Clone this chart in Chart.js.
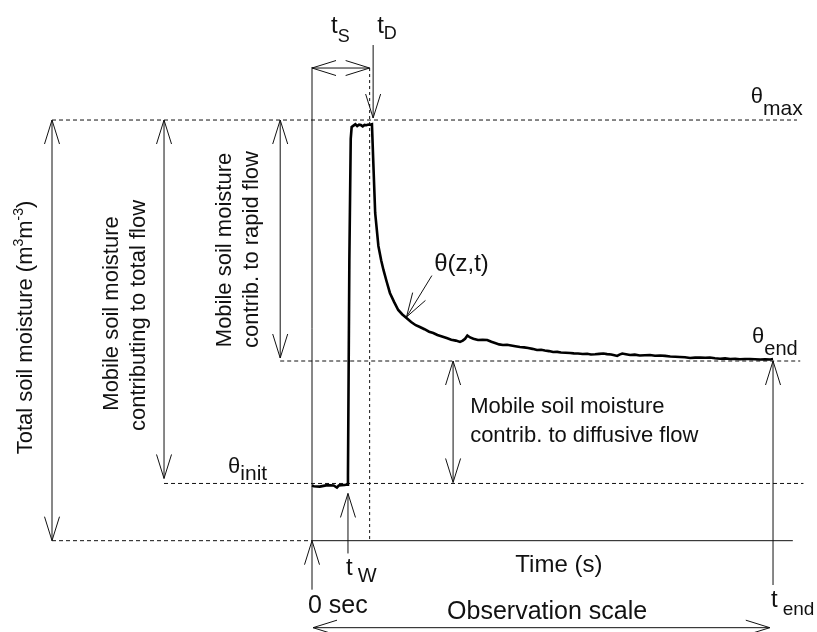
<!DOCTYPE html>
<html><head><meta charset="utf-8">
<script src="https://cdn.jsdelivr.net/npm/chart.js@4.4.1/dist/chart.umd.min.js"></script>
<style>html,body{margin:0;padding:0;background:#fff;}canvas{display:block;}</style>
</head><body>
<canvas id="c" width="817" height="632"></canvas>
<script>
// Time (s) of the measured soil-moisture trace
const timeS = [
  0,4,10,17,25,33,40,47,54,58,64,71,76,
  78,81,84,86,
  90,94,98,102,106,110,114,118,122,126,130,
  133,137,144,150,155,162,169,178,187,196,205,215,225,234,244,254,263,272,282,292,302,312,321,
  327,332,337,343,350,360,370,380,389,397,406,414,423,432,441,451,460,469,478,488,497,505,514,523,532,540,550,560,568,577,587,597,605,614,623,632,640,649,656,662,667,673,681,690,700,
  711,722,733,744,755,766,777,788,798,809,820,831,842,853,863,874,885,896,907,918,928,939,950,961,972,983,994,1000
];
// Soil moisture theta(z,t) (m3 m-3)
const thetaS = [
  0.0590,0.0583,0.0580,0.0578,0.0586,0.0594,0.0592,0.0590,0.0568,0.0590,0.0594,0.0596,0.0600,
  0.070,0.300,0.430,0.4425,
  0.4440,0.4455,0.4436,0.4450,0.4446,0.4432,0.4448,0.4445,0.4452,0.4450,0.4455,
  0.4041,0.3506,0.3153,0.3000,0.2896,0.2770,0.2650,0.2555,0.2468,0.2420,0.2382,0.2340,0.2305,0.2286,0.2262,0.2235,0.2222,0.2200,0.2185,0.2168,0.2150,0.2140,0.2126,
  0.2140,0.2160,0.2195,0.2174,0.2160,0.2147,0.2150,0.2147,0.2128,0.2115,0.2100,0.2093,0.2095,0.2088,0.2080,0.2072,0.2068,0.2061,0.2052,0.2040,0.2042,0.2034,0.2028,0.2018,0.2020,0.2013,0.2010,0.2008,0.2004,0.2002,0.1997,0.1999,0.1992,0.1994,0.1998,0.2002,0.1996,0.1992,0.1984,0.1976,0.1990,0.2002,0.1994,0.1986,0.1990,
  0.1981,0.1984,0.1986,0.1978,0.1981,0.1977,0.1970,0.1968,0.1965,0.1962,0.1954,0.1958,0.1960,0.1957,0.1960,0.1952,0.1946,0.1950,0.1943,0.1946,0.1941,0.1944,0.1943,0.1940,0.1938,0.1941,0.1938,0.1943
];
// Key times and moisture levels
const T_W = 78, T_D = 125, T_END = 1000, T_AXIS_END = 1043;
const TH_INIT = 0.0612, TH_END = 0.1922, TH_MAX = 0.45;
const LEFT_TOTAL = -564, LEFT_FLOW = -321, LEFT_RAPID = -69, DIFF_T = 306;
const X_MIN = -676.8, X_MAX = 1095.4, Y_MIN = -0.0977, Y_MAX = 0.5784;

const FONT = '"Liberation Sans", Arial, Helvetica, sans-serif';
const INK = '#111';

function rich(ctx, x, y, segs, align) {
  let w = 0;
  segs.forEach(s => { ctx.font = s.s + 'px ' + FONT; s.w = ctx.measureText(s.t).width + (s.dx || 0); w += s.w; });
  let cx = align === 'center' ? x - w / 2 : x;
  ctx.textAlign = 'left';
  segs.forEach(s => { ctx.font = s.s + 'px ' + FONT; ctx.fillText(s.t, cx + (s.dx || 0), y + (s.dy || 0)); cx += s.w; });
}

const annot = {
  id: 'annot',
  beforeDatasetsDraw(chart) {
    const ctx = chart.ctx, xs = chart.scales.x, ys = chart.scales.y;
    const X = v => xs.getPixelForValue(v), Y = v => ys.getPixelForValue(v);
    const x0 = X(0), xW = X(T_W), xD = X(T_D), xE = X(T_END), xA = X(T_AXIS_END);
    const y0 = Y(0), yI = Y(TH_INIT), yE = Y(TH_END), yM = Y(TH_MAX);
    const xTot = X(LEFT_TOTAL), xFlow = X(LEFT_FLOW), xRap = X(LEFT_RAPID), xDif = X(DIFF_T);
    ctx.save();
    ctx.strokeStyle = INK; ctx.lineWidth = 1;
    const line = (x1, y1, x2, y2, dash) => { ctx.setLineDash(dash || []); ctx.beginPath(); ctx.moveTo(x1, y1); ctx.lineTo(x2, y2); ctx.stroke(); };
    const head = (tx, ty, fx, fy) => {
      const a = Math.atan2(ty - fy, tx - fx), L = 24, H = 7.5;
      const bx = tx - L * Math.cos(a), by = ty - L * Math.sin(a);
      const nx = -Math.sin(a), ny = Math.cos(a);
      ctx.setLineDash([]);
      ctx.beginPath();
      ctx.moveTo(bx + H * nx, by + H * ny); ctx.lineTo(tx, ty); ctx.lineTo(bx - H * nx, by - H * ny);
      ctx.stroke();
    };
    const arrow2 = (x1, y1, x2, y2) => { line(x1, y1, x2, y2); head(x1, y1, x2, y2); head(x2, y2, x1, y1); };
    const D = [4, 3];
    // dashed reference levels
    line(xTot, yM, X(1052), yM, D);
    line(xTot, y0, x0, y0, D);
    line(xFlow, yI, X(1066), yI, D);
    line(xRap, yE, X(1059), yE, D);
    // time axis
    line(x0, y0, xA, y0);
    // 0 sec vertical line
    line(x0, yM - 53, x0, y0 + 49);
    head(x0, y0, x0, y0 + 49);
    // tS span
    arrow2(x0, yM - 52, xD, yM - 52);
    line(xD, yM - 52, xD, y0, [3, 3]);
    // tD arrow
    line(xD + 3.5, yM - 75, xD + 3.5, yM - 2);
    head(xD + 3.5, yM - 2, xD + 3.5, yM - 75);
    // vertical range arrows
    arrow2(xTot, yM, xTot, y0);
    arrow2(xFlow, yM, xFlow, yI - 5);
    arrow2(xRap, yM, xRap, yE - 3);
    arrow2(xDif, yE, xDif, yI - 1);
    // tW arrow
    line(xW, yI + 10, xW, yI + 70);
    head(xW, yI + 10, xW, yI + 70);
    // t_end arrow
    line(xE, yE, xE, yE + 224);
    head(xE, yE, xE, yE + 224);
    // observation scale
    arrow2(x0 + 1, y0 + 87, X(993), y0 + 87);
    // theta(z,t) pointer
    const tx = X(205), ty = Y(0.2393), fx = X(260), fy = Y(0.2836);
    line(fx, fy, tx, ty); head(tx, ty, fx, fy);
    ctx.restore();
  },
  afterDatasetsDraw(chart) {
    const ctx = chart.ctx, xs = chart.scales.x, ys = chart.scales.y;
    const X = v => xs.getPixelForValue(v), Y = v => ys.getPixelForValue(v);
    const x0 = X(0), xW = X(T_W), xD = X(T_D), xE = X(T_END), xA = X(T_AXIS_END);
    const y0 = Y(0), yI = Y(TH_INIT), yE = Y(TH_END), yM = Y(TH_MAX);
    ctx.save();
    ctx.fillStyle = INK; ctx.textBaseline = 'alphabetic';
    rich(ctx, x0 + 19, yM - 87, [{t: 't', s: 24}, {t: 'S', s: 18, dy: 9}], 'left');
    rich(ctx, xD + 7.5, yM - 87, [{t: 't', s: 24}, {t: 'D', s: 18, dy: 5.5}], 'left');
    rich(ctx, xA - 42, yM - 17, [{t: 'θ', s: 22}, {t: 'max', s: 21, dy: 12}], 'left');
    rich(ctx, xE - 21, yE - 18, [{t: 'θ', s: 22}, {t: 'end', s: 20, dy: 12}], 'left');
    rich(ctx, X(-182), yI - 10.5, [{t: 'θ', s: 22}, {t: 'init', s: 21, dy: 7}], 'left');
    rich(ctx, X(265), Y(0.2883), [{t: 'θ(z,t)', s: 24}], 'left');
    rich(ctx, x0 - 4, y0 + 72, [{t: '0 sec', s: 25}], 'left');
    rich(ctx, X(441), y0 + 31, [{t: 'Time (s)', s: 24}], 'left');
    rich(ctx, X(293), y0 + 78, [{t: 'Observation scale', s: 25}], 'left');
    rich(ctx, xE - 2, y0 + 66, [{t: 't', s: 24}, {t: 'end', s: 19, dy: 8, dx: 5}], 'left');
    rich(ctx, xW - 2, y0 + 34, [{t: 't', s: 24}, {t: 'W', s: 20, dy: 7, dx: 5}], 'left');
    rich(ctx, X(343), yE + 52, [{t: 'Mobile soil moisture', s: 22}], 'left');
    rich(ctx, X(343), yE + 80.5, [{t: 'contrib. to diffusive flow', s: 22}], 'left');
    const vert = (bx, cy, segs) => { ctx.save(); ctx.translate(bx, cy); ctx.rotate(-Math.PI / 2); rich(ctx, 0, 0, segs, 'center'); ctx.restore(); };
    vert(32, 327.5, [{t: 'Total soil moisture (m', s: 22}, {t: '3', s: 14, dy: -9}, {t: 'm', s: 22}, {t: '-3', s: 14, dy: -9}, {t: ')', s: 22}]);
    vert(118, 313.5, [{t: 'Mobile soil moisture', s: 22}]);
    vert(144.5, 315.5, [{t: 'contributing to total flow', s: 22}]);
    vert(231, 250, [{t: 'Mobile soil moisture', s: 22}]);
    vert(258, 249.5, [{t: 'contrib. to rapid flow', s: 22}]);
    ctx.restore();
  }
};

const n = Math.min(timeS.length, thetaS.length);
const pts = [];
for (let i = 0; i < n; i++) pts.push({x: timeS[i], y: thetaS[i]});

new Chart(document.getElementById('c'), {
  type: 'line',
  data: { datasets: [{ data: pts, borderColor: '#000', borderWidth: 2.6, pointRadius: 0, tension: 0, fill: false, clip: false }] },
  options: {
    responsive: false, animation: false,
    layout: { padding: 0 },
    plugins: { legend: { display: false }, tooltip: { enabled: false } },
    scales: {
      x: { type: 'linear', min: X_MIN, max: X_MAX, display: false },
      y: { type: 'linear', min: Y_MIN, max: Y_MAX, display: false }
    }
  },
  plugins: [annot]
});
</script>
</body></html>
